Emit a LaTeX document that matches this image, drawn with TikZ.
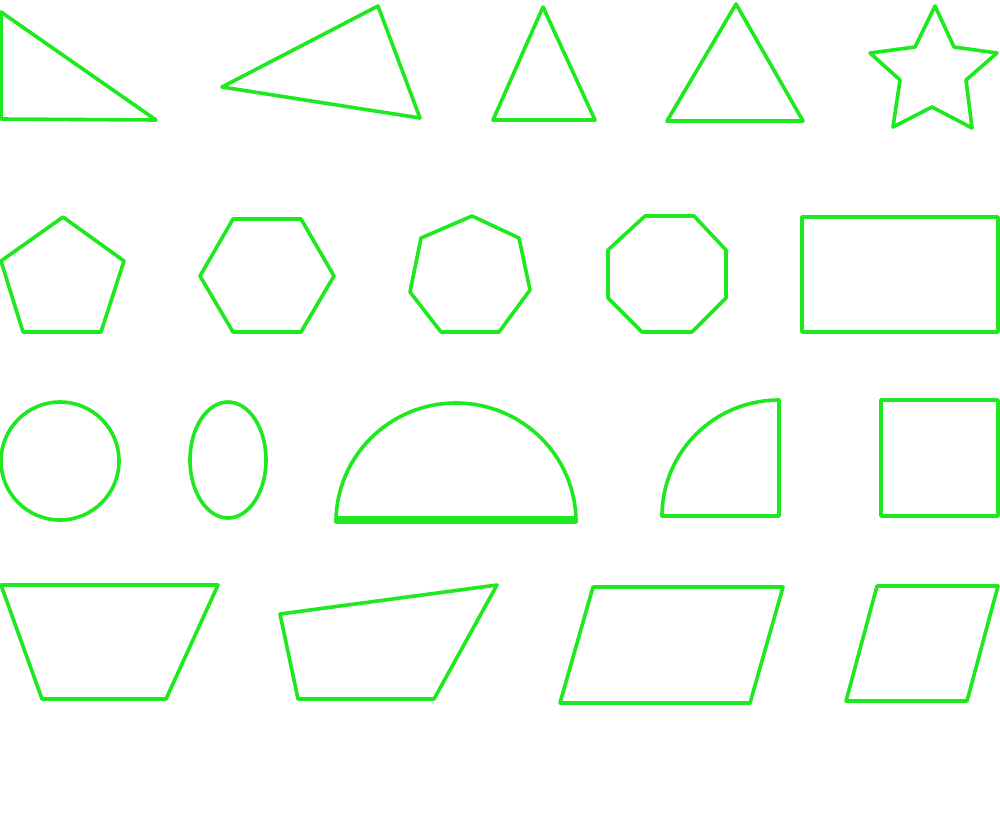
\documentclass[tikz,border=0pt]{standalone}
\definecolor{shapegreen}{RGB}{30,232,30}
\begin{document}
\begin{tikzpicture}[x=0.5pt,y=-0.5pt,
  outline/.style={draw=shapegreen,line width=1.8pt,line join=round,line cap=round}]
\useasboundingbox[fill=white] (0,0) rectangle (1000,819);
% row 1
\draw[outline] (1,12) -- (1,119) -- (156,120) -- cycle;
\draw[outline] (222,87) -- (378,6) -- (420,118) -- cycle;
\draw[outline] (543,7) -- (595,120) -- (493,120) -- cycle;
\draw[outline] (736,4) -- (803,121) -- (667,121) -- cycle;
\draw[outline] (935,6) -- (954,47) -- (997,53) -- (966,80) -- (972,128) -- (932,107)
  -- (893,127) -- (900,80) -- (870,53) -- (915,47) -- cycle;
% row 2
\draw[outline] (63,217) -- (124,261) -- (101,332) -- (23,332) -- (1,261) -- cycle;
\draw[outline] (233,219) -- (301,219) -- (334,276) -- (301,332) -- (233,332) -- (200,276) -- cycle;
\draw[outline] (472,216) -- (519,238) -- (530,290) -- (499,332) -- (441,332) -- (410,292) -- (421,238) -- cycle;
\draw[outline] (645,216) -- (694,216) -- (726,250) -- (726,298) -- (692,332) -- (642,332) -- (608,298) -- (608,250) -- cycle;
\draw[outline] (802,217) rectangle (998,332);
% row 3
\draw[outline] (60,461) ellipse [x radius=59, y radius=59];
\draw[outline] (228,460) ellipse [x radius=38, y radius=58];
\draw[outline] (336,522) arc[start angle=180, end angle=360, x radius=120, y radius=119] -- cycle;
\draw[outline] (338,518) -- (574,518);
\draw[outline] (662,516) arc[start angle=180, end angle=270, x radius=117, y radius=116] -- (779,516) -- cycle;
\draw[outline] (881,400) rectangle (998,516);
% row 4
\draw[outline] (1,585) -- (218,585) -- (166,699) -- (42,699) -- cycle;
\draw[outline] (280,614) -- (497,585) -- (434,699) -- (298,699) -- cycle;
\draw[outline] (593,587) -- (783,587) -- (750,703) -- (560,703) -- cycle;
\draw[outline] (877,586) -- (998,586) -- (967,701) -- (846,701) -- cycle;
\end{tikzpicture}
\end{document}
